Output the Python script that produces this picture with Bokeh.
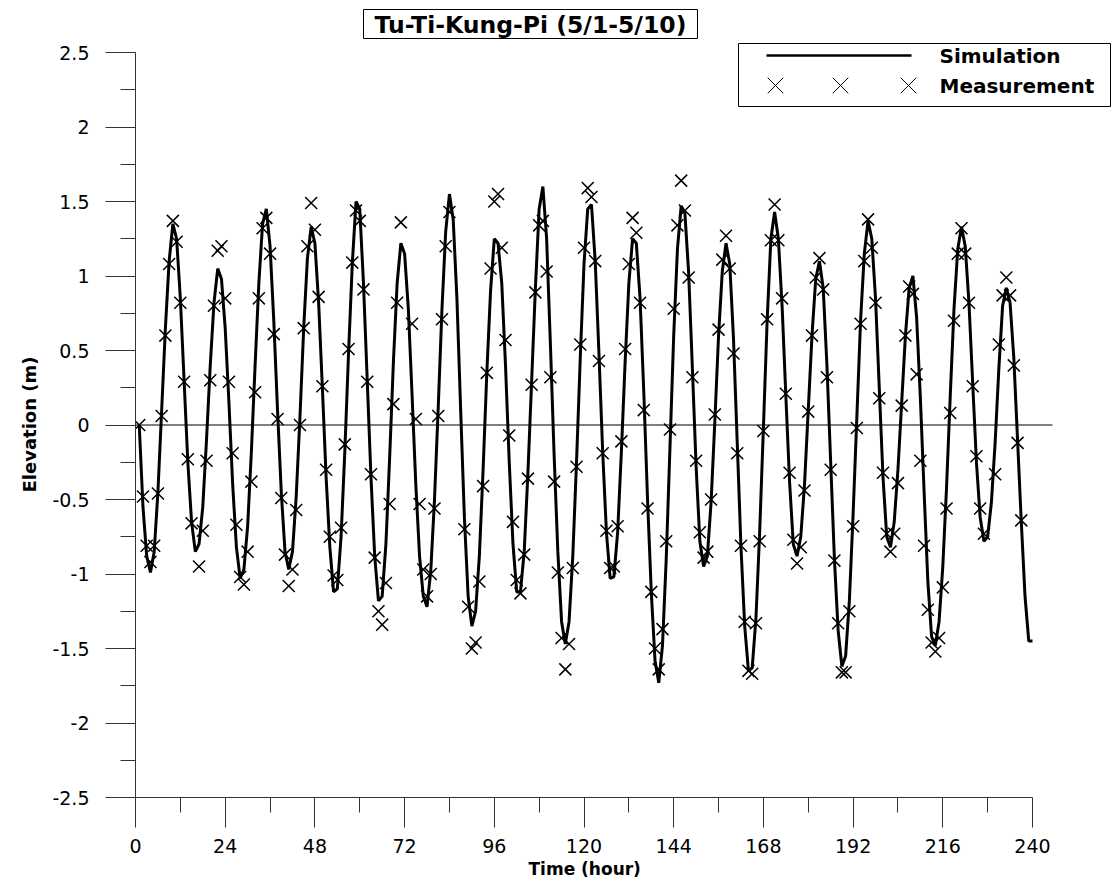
from bokeh.plotting import figure
from bokeh.models import (Range1d, FixedTicker, Label, BoxAnnotation, LinearAxis, Title)
from bokeh.embed import file_html
from bokeh.resources import INLINE

# ---------------- data ----------------
sim_hour = list(range(1, 241))
sim_elev = [
    0.00, -0.55, -0.88, -0.99, -0.85, -0.45, 0.10, 0.65, 1.10, 1.35,
    1.25, 0.85, 0.30, -0.25, -0.65, -0.85, -0.80, -0.55, -0.10, 0.40,
    0.82, 1.05, 0.98, 0.65, 0.15, -0.40, -0.82, -1.03, -0.97, -0.68,
    -0.18, 0.40, 0.95, 1.35, 1.45, 1.20, 0.70, 0.10, -0.45, -0.85,
    -0.97, -0.85, -0.48, 0.05, 0.65, 1.12, 1.33, 1.22, 0.82, 0.25,
    -0.35, -0.82, -1.12, -1.10, -0.75, -0.18, 0.48, 1.08, 1.50, 1.45,
    0.95, 0.30, -0.35, -0.88, -1.18, -1.15, -0.80, -0.22, 0.42, 0.95,
    1.22, 1.15, 0.78, 0.20, -0.40, -0.88, -1.15, -1.22, -0.98, -0.50,
    0.12, 0.78, 1.30, 1.55, 1.38, 0.85, 0.10, -0.62, -1.15, -1.35,
    -1.25, -0.88, -0.30, 0.35, 0.90, 1.25, 1.22, 0.95, 0.40, -0.25,
    -0.80, -1.12, -1.12, -0.85, -0.32, 0.30, 0.92, 1.45, 1.60, 1.25,
    0.55, -0.20, -0.85, -1.32, -1.47, -1.32, -0.88, -0.25, 0.45, 1.08,
    1.45, 1.48, 1.10, 0.48, -0.18, -0.72, -1.03, -1.02, -0.72, -0.18,
    0.42, 0.95, 1.25, 1.22, 0.85, 0.22, -0.50, -1.12, -1.58, -1.73,
    -1.48, -0.90, -0.15, 0.60, 1.18, 1.47, 1.42, 1.02, 0.38, -0.28,
    -0.78, -0.95, -0.88, -0.52, 0.02, 0.60, 1.03, 1.22, 1.08, 0.58,
    -0.12, -0.82, -1.35, -1.65, -1.63, -1.30, -0.72, -0.02, 0.70, 1.25,
    1.43, 1.25, 0.80, 0.20, -0.38, -0.80, -0.88, -0.75, -0.40, 0.10,
    0.60, 0.98, 1.10, 0.92, 0.40, -0.25, -0.90, -1.38, -1.62, -1.55,
    -1.18, -0.60, 0.05, 0.70, 1.15, 1.37, 1.25, 0.85, 0.25, -0.35,
    -0.75, -0.82, -0.65, -0.30, 0.15, 0.60, 0.92, 1.00, 0.72, 0.18,
    -0.45, -1.05, -1.42, -1.48, -1.32, -0.95, -0.42, 0.20, 0.78, 1.18,
    1.33, 1.20, 0.82, 0.28, -0.25, -0.62, -0.78, -0.75, -0.52, -0.12,
    0.38, 0.80, 0.92, 0.82, 0.45, -0.10, -0.65, -1.15, -1.45, -1.45,
]

meas_hour = [
    1, 2, 3, 4, 5, 6, 7, 8, 9, 10, 11, 12, 13, 14, 15, 17, 18, 19, 20,
    21, 22, 23, 24, 25, 26, 27, 28, 29, 30, 31, 32, 33, 34, 35, 36, 37, 38,
    39, 40, 41, 42, 43, 44, 45, 46, 47, 48, 49, 50, 51, 52, 53, 54, 55, 56,
    57, 58, 59, 60, 61, 62, 63, 64, 65, 66, 67, 68, 69, 70, 71, 74, 75, 76,
    77, 78, 79, 80, 81, 82, 83, 84, 88, 89, 90, 91, 92, 93, 94, 95, 96, 97,
    98, 99, 100, 101, 102, 103, 104, 105, 106, 107, 108, 109, 110, 111, 112,
    113, 114, 115, 116, 117, 118, 119, 120, 121, 122, 123, 124, 125, 126,
    127, 128, 129, 130, 131, 132, 133, 134, 135, 136, 137, 138, 139, 140,
    141, 142, 143, 144, 145, 146, 147, 148, 149, 150, 151, 152, 153, 154,
    155, 156, 157, 158, 159, 160, 161, 162, 163, 164, 165, 166, 167, 168,
    169, 170, 171, 172, 173, 174, 175, 176, 177, 178, 179, 180, 181, 182,
    183, 184, 185, 186, 187, 188, 189, 190, 191, 192, 193, 194, 195, 196,
    197, 198, 199, 200, 201, 202, 203, 204, 205, 206, 207, 208, 209, 210,
    211, 212, 213, 214, 215, 216, 217, 218, 219, 220, 221, 222, 223, 224,
    225, 226, 227, 230, 231, 232, 233, 234, 235, 236, 237,
]
meas_elev = [
    0.00, -0.48, -0.81, -0.92, -0.81, -0.46, 0.06, 0.60, 1.08, 1.37, 1.23,
    0.82, 0.29, -0.23, -0.66, -0.95, -0.71, -0.24, 0.30,
    0.80, 1.17, 1.20, 0.85, 0.29, -0.19, -0.67, -1.02, -1.07, -0.85, -0.38,
    0.22, 0.85, 1.32, 1.39, 1.15, 0.61, 0.04,
    -0.49, -0.87, -1.08, -0.97, -0.57, 0.00, 0.65, 1.20, 1.49, 1.31, 0.86,
    0.26, -0.30, -0.75, -1.01, -1.04, -0.69, -0.13,
    0.51, 1.09, 1.44, 1.37, 0.91, 0.29, -0.33, -0.89, -1.25, -1.34, -1.06,
    -0.53, 0.14, 0.82, 1.36, 0.68, 0.04, -0.53,
    -0.97, -1.15, -1.00, -0.56, 0.06, 0.71, 1.20, 1.43, -0.70, -1.22, -1.50,
    -1.46, -1.05, -0.41, 0.35, 1.05, 1.50, 1.55,
    1.19, 0.57, -0.07, -0.65, -1.04, -1.13, -0.87, -0.36, 0.27, 0.89, 1.34,
    1.37, 1.03, 0.32, -0.38,
    -0.99, -1.43, -1.64, -1.47, -0.96, -0.28, 0.54, 1.19, 1.59, 1.53, 1.10,
    0.43, -0.19, -0.71,
    -0.96, -0.95, -0.68, -0.11, 0.51, 1.08, 1.39, 1.29, 0.82, 0.10, -0.56,
    -1.12, -1.50, -1.64,
    -1.37, -0.78, -0.03, 0.78, 1.34, 1.64, 1.44, 0.99, 0.32, -0.24, -0.72,
    -0.89, -0.85, -0.50,
    0.07, 0.64, 1.11, 1.27, 1.05, 0.48, -0.19, -0.81, -1.32, -1.65, -1.67,
    -1.33, -0.78, -0.04,
    0.71, 1.24, 1.48, 1.24, 0.85, 0.21, -0.32, -0.77, -0.93, -0.82, -0.44,
    0.09, 0.60, 0.99,
    1.12, 0.91, 0.32, -0.30, -0.91, -1.33, -1.66, -1.66, -1.25, -0.68,
    -0.02, 0.68, 1.10, 1.38,
    1.19, 0.82, 0.18, -0.32, -0.73, -0.85, -0.73, -0.39, 0.13, 0.60, 0.93,
    0.88, 0.34, -0.24,
    -0.81, -1.24, -1.46, -1.52, -1.43, -1.09, -0.56, 0.08, 0.70, 1.15, 1.32,
    1.15, 0.82, 0.26,
    -0.21, -0.56, -0.73, -0.33, 0.54, 0.87, 0.99, 0.87, 0.40, -0.12, -0.64,
]

x_ticks = list(range(0, 241, 24))
x_minor = list(range(12, 240, 24))
y_ticks = [-2.5, -2, -1.5, -1, -0.5, 0, 0.5, 1, 1.5, 2, 2.5]
y_tick_labels = ["-2.5", "-2", "-1.5", "-1", "-0.5", "0", "0.5", "1", "1.5", "2", "2.5"]
y_minor = [-2.25, -1.75, -1.25, -0.75, -0.25, 0.25, 0.75, 1.25, 1.75, 2.25]

title_text = "Tu-Ti-Kung-Pi (5/1-5/10)"
legend_names = ["Simulation", "Measurement"]
x_title = "Time (hour)"
y_title = "Elevation (m)"

# ---------------- geometry helpers (pixels -> data) ----------------
X0_PX, PX_PER_HR = 135.0, 3.7375
Y0_PX, PX_PER_M = 424.5, 149.0
def dx(px):
    return (px - X0_PX) / PX_PER_HR
def dy(py):
    return (Y0_PX - py) / PX_PER_M

BOLD = "DejaVu Sans"
REG = "DejaVu Sans"

FRAME_W = 1115 - 135
FRAME_H = 797
p = figure(width=1115, height=886, output_backend="svg", toolbar_location=None,
           x_range=Range1d(0, FRAME_W / PX_PER_HR),
           y_range=Range1d(-2.5, -2.5 + FRAME_H / PX_PER_M),
           min_border_left=135, min_border_right=0, min_border_top=0,
           min_border_bottom=89, x_axis_location=None, y_axis_location=None)
p.title.visible = False
p.outline_line_color = None
p.xgrid.visible = False
p.ygrid.visible = False
p.background_fill_color = "white"
p.border_fill_color = "white"

AX_COL = "#333333"
xaxis = LinearAxis(ticker=FixedTicker(ticks=x_ticks, minor_ticks=x_minor), bounds=(0, 240))
xaxis.major_label_text_font = REG
xaxis.major_label_text_font_size = "19px"
xaxis.major_label_text_color = "black"
xaxis.major_label_standoff = 11
xaxis.major_tick_out = 30
xaxis.major_tick_in = 0
xaxis.minor_tick_out = 15
xaxis.minor_tick_in = 0
xaxis.axis_line_color = AX_COL
xaxis.major_tick_line_color = AX_COL
xaxis.minor_tick_line_color = AX_COL
p.add_layout(xaxis, "below")

yaxis = LinearAxis(ticker=FixedTicker(ticks=y_ticks, minor_ticks=y_minor), bounds=(-2.5, 2.5))
yaxis.major_label_overrides = {t: s for t, s in zip(y_ticks, y_tick_labels)}
yaxis.major_label_text_font = REG
yaxis.major_label_text_font_size = "19px"
yaxis.major_label_text_color = "black"
yaxis.major_label_standoff = 16
yaxis.major_tick_out = 30
yaxis.major_tick_in = 0
yaxis.minor_tick_out = 15
yaxis.minor_tick_in = 0
yaxis.axis_line_color = AX_COL
yaxis.major_tick_line_color = AX_COL
yaxis.minor_tick_line_color = AX_COL
p.add_layout(yaxis, "left")

# axis titles as side-panel titles, positioned on the 0..240 / -2.5..2.5 spans
p.add_layout(Title(text=x_title, align="left", offset=393, text_font=BOLD,
                   text_font_style="bold", text_font_size="17px", text_color="black",
                   standoff=3), "below")
p.add_layout(Title(text=y_title, align="left", offset=305, text_font=BOLD,
                   text_font_style="bold", text_font_size="18px", text_color="black",
                   standoff=20), "left")

# zero reference line
p.line([0, dx(1052)], [0, 0], line_color="black", line_width=1)

p.line(sim_hour, sim_elev, line_color="black", line_width=3)
p.scatter(meas_hour, meas_elev, marker="x", size=17, line_color="black", line_width=1.5)

# title with frame
p.add_layout(BoxAnnotation(left=dx(363), right=dx(697), top=dy(9), bottom=dy(38),
                           fill_color="white", fill_alpha=1.0, line_color="black",
                           line_alpha=1.0, line_width=1, level="underlay"))
p.add_layout(Label(x=dx(530), y=dy(24), text=title_text, text_align="center",
                   text_baseline="middle", text_font=BOLD, text_font_style="bold",
                   text_font_size="23.5px", text_color="black"))

# legend
p.add_layout(BoxAnnotation(left=dx(738), right=dx(1110), top=dy(43), bottom=dy(106),
                           fill_color="white", fill_alpha=1.0, line_color="black",
                           line_alpha=1.0, line_width=1, level="underlay"))
p.line([dx(766), dx(911)], [dy(55), dy(55)], line_color="black", line_width=2.5)
p.scatter([dx(775), dx(840), dx(908)], [dy(85)] * 3, marker="x", size=22,
          line_color="black", line_width=1)
for name, py in zip(legend_names, [55, 85]):
    p.add_layout(Label(x=dx(939), y=dy(py), text=name, text_align="left",
                       text_baseline="middle", text_font=BOLD, text_font_style="bold",
                       text_font_size="20px", text_color="black"))

open("out.html", "w").write(file_html(p, INLINE))
